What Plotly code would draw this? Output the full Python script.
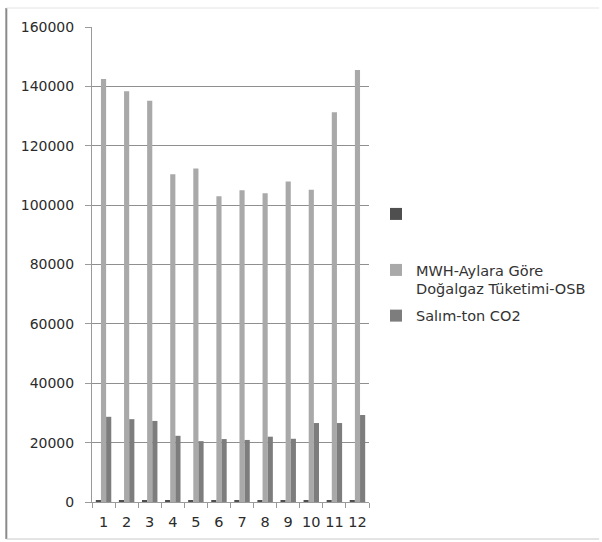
import plotly.graph_objects as go

months = ["1", "2", "3", "4", "5", "6", "7", "8", "9", "10", "11", "12"]
series0_name = " "
series0 = [400, 400, 400, 400, 400, 400, 400, 400, 400, 400, 400, 400]
mwh_name = "MWH-Aylara Göre<br>Doğalgaz Tüketimi-OSB"
mwh = [142500, 138400, 135200, 110400, 112300, 103000, 105000, 104000, 108000, 105200, 131300, 145500]
co2_name = "Salım-ton CO2"
co2 = [28700, 27900, 27300, 22300, 20500, 21200, 20900, 22000, 21300, 26600, 26600, 29300]
y_ticks = [0, 20000, 40000, 60000, 80000, 100000, 120000, 140000, 160000]

W, H = 602, 542
L, R, T, B = 92, 232, 27, 40
pw, ph = W - L - R, H - T - B

def px_x(p):
    return (p - L) / pw

def px_y(p):
    return (H - B - p) / ph

fig = go.Figure()
fig.add_trace(go.Bar(x=months, y=series0, name=series0_name, marker_color="#4f4f4f",
                     legend="legend2", marker_line_width=0))
fig.add_trace(go.Bar(x=months, y=mwh, name=mwh_name, marker_color="#a9a9a9",
                     marker_line_width=0, legendgroup="a"))
fig.add_trace(go.Bar(x=months, y=co2, name=co2_name, marker_color="#7d7d7d",
                     marker_line_width=0, legendgroup="b"))

tick_font = dict(family="DejaVu Sans", size=14, color="#2b2b2b")
legend_font = dict(family="DejaVu Sans", size=14.5, color="#333333")

fig.update_layout(
    width=W, height=H,
    margin=dict(l=L, r=R, t=T, b=B),
    paper_bgcolor="white", plot_bgcolor="white",
    barmode="group", bargap=0.33, bargroupgap=0,
    showlegend=True,
    legend=dict(x=px_x(376), y=px_y(254), xanchor="left", yanchor="top",
                font=legend_font, valign="top", tracegroupgap=5,
                traceorder="grouped", bgcolor="rgba(0,0,0,0)",
                itemwidth=30),
    legend2=dict(x=px_x(376), y=px_y(198), xanchor="left", yanchor="top",
                 font=legend_font, bgcolor="rgba(0,0,0,0)", itemwidth=30),
    xaxis=dict(type="category", showgrid=False, showline=True, linecolor="#9a9a9a",
               linewidth=1, ticks="outside", tickson="boundaries", ticklen=5,
               tickcolor="#9a9a9a", tickangle=0,
               tickfont=dict(family="DejaVu Sans", size=14.5, color="#2b2b2b"),
               ticklabelstandoff=7),
    yaxis=dict(range=[0, 160000], tickvals=y_ticks, ticktext=[str(v) for v in y_ticks],
               showgrid=True, gridcolor="#8f8f8f", gridwidth=1, showline=True,
               linecolor="#9a9a9a", linewidth=1, ticks="outside", ticklen=6,
               tickcolor="#9a9a9a", tickfont=tick_font, ticklabelstandoff=8,
               zeroline=False),
)

# chart-area border
fig.add_shape(type="line", xref="paper", yref="paper", x0=px_x(6), x1=px_x(6),
              y0=px_y(8), y1=px_y(539), line=dict(color="#8a8a8a", width=2))
fig.add_shape(type="line", xref="paper", yref="paper", x0=px_x(6), x1=px_x(601),
              y0=px_y(539), y1=px_y(539), line=dict(color="#c8c8c8", width=1))
fig.add_shape(type="line", xref="paper", yref="paper", x0=px_x(6), x1=px_x(601),
              y0=px_y(8), y1=px_y(8), line=dict(color="#e4e4e4", width=1))

fig.write_html("out.html")
